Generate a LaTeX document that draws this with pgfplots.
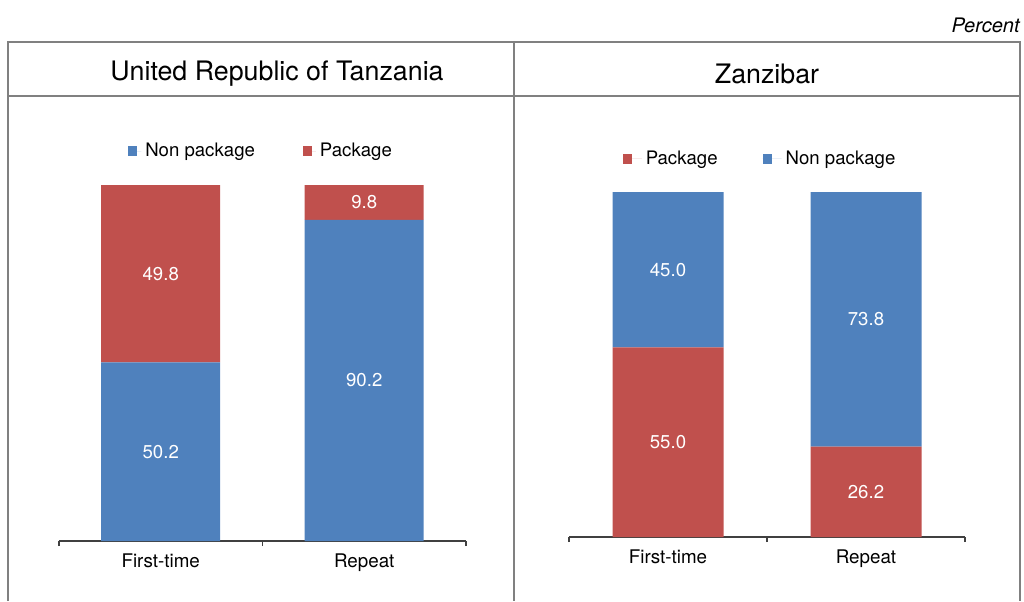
\documentclass[border=0pt]{standalone}
\usepackage{fontspec}
\setmainfont{TeX Gyre Heros}
\usepackage{pgfplots}
\pgfplotsset{compat=1.18}
\definecolor{cblue}{HTML}{4F81BD}
\definecolor{cred}{HTML}{C0504D}
\definecolor{framec}{HTML}{808080}
\pgfplotsset{
 panel/.style={
   scale only axis,
   anchor=south west,
   ybar stacked,
   ymin=0, ymax=100,
   xmin=-0.5, xmax=1.5,
   axis y line=none,
   axis x line*=bottom,
   xtick={0,1},
   xticklabels={First-time,Repeat},
   major tick length=0pt,
   minor xtick={-0.5,0.5,1.5},
   xtick align=outside,
   minor tick length=2.5pt,
   x axis line style={black!75, line width=0.6pt, -},
   minor x tick style={black!75, line width=0.6pt},
   tick label style={font=\fontsize{9.4}{11}\selectfont},
   xticklabel style={yshift=-3pt},
   /pgf/number format/assume math mode=true,
   legend style={draw=none, fill=none, legend columns=-1, font=\fontsize{9.3}{11}\selectfont},
   nodes near coords={\pgfmathprintnumber[fixed,fixed zerofill,precision=1,assume math mode=true]{\pgfplotspointmeta}},
   every node near coord/.append style={anchor=center, text=white, font=\fontsize{9.3}{11}\selectfont},
   clip=false,
 },
}
\begin{document}
\begin{tikzpicture}
\useasboundingbox (0,0) rectangle (512pt,-300.5pt);
\draw[framec, line width=0.6pt] (4pt,-300.5pt) -- (4pt,-21pt) -- (510pt,-21pt) -- (510pt,-300.5pt);
\draw[framec, line width=0.6pt] (257pt,-21pt) -- (257pt,-300.5pt);
\draw[framec, line width=0.6pt] (4pt,-48pt) -- (510pt,-48pt);
\node[font=\fontsize{13.4}{15}\selectfont] at (138.5pt,-36.8pt) {United Republic of Tanzania};
\node[font=\fontsize{13.4}{15}\selectfont] at (383.5pt,-36.8pt) {Zanzibar};
\node[anchor=east, font=\itshape\fontsize{10}{12}\selectfont, inner sep=0pt] at (510pt,-12.5pt) {Percent};

\begin{axis}[panel, at={(29.5pt,-270.5pt)}, width=203.5pt, height=178pt, bar width=59.5pt,
  legend style={at={(0.499,1.0955)}, anchor=center, /tikz/every even column/.append style={column sep=22pt}},
  legend image code/.code={\fill[#1] (0pt,-2.3pt) rectangle (4.6pt,2.3pt); \path (0pt,0pt) -- (6.5pt,0pt);}]
\addplot[fill=cblue, draw=none] table[x=x,y=y,meta=y] {
x y
0 50.2
1 90.2
};
\addlegendentry{Non package}
\addplot[fill=cred, draw=none] table[x=x,y=y,meta=y] {
x y
0 49.8
1 9.8
};
\addlegendentry{Package}
\end{axis}

\begin{axis}[panel, at={(284.5pt,-268.5pt)}, width=198pt, height=172.5pt, bar width=55.5pt,
  legend style={at={(0.485,1.0957)}, anchor=center, /tikz/every even column/.append style={column sep=20.5pt}},
  legend image code/.code={\fill[#1] (0pt,-2.3pt) rectangle (4.6pt,2.3pt); \path (0pt,0pt) -- (9.5pt,0pt);}]
\addplot[fill=cred, draw=none] table[x=x,y=y,meta=y] {
x y
0 55.0
1 26.2
};
\addlegendentry{Package}
\addplot[fill=cblue, draw=none] table[x=x,y=y,meta=y] {
x y
0 45.0
1 73.8
};
\addlegendentry{Non package}
\end{axis}
\end{tikzpicture}
\end{document}
